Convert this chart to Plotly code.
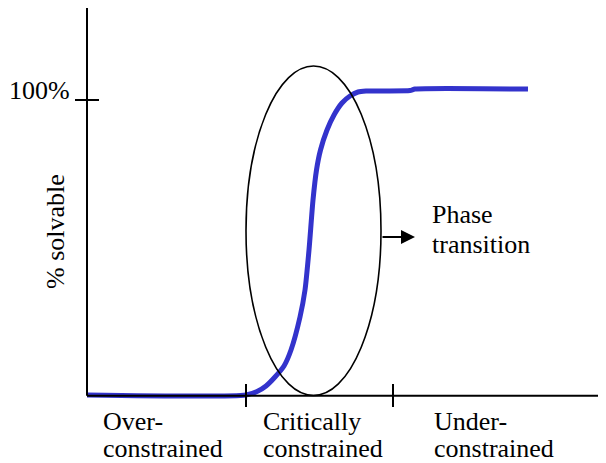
import plotly.graph_objects as go

# ---- data (x: constrainedness units, y: % solvable) ----
curve_x = [0, 159, 171, 179, 188, 197, 204, 213, 218, 222, 226, 229.5, 233.5, 240, 247, 255, 263, 271, 279, 323, 328, 441]
curve_y = [0, 0, 1.36, 3.05, 6.1, 9.83, 15.25, 26.44, 35.59, 49.15, 66.1, 76.27, 83.05, 89.83, 94.92, 98.98, 101.36, 102.71, 103.05, 103.2, 103.7, 103.7]

region_bounds = [159, 306]          # tick positions on the x axis
region_labels = [["Over-", "constrained"], ["Critically", "constrained"], ["Under-", "constrained"]]
y_tick_value = 100
y_tick_label = "100%"
y_axis_title = "% solvable"
transition_window = [159, 294]      # ellipse x-extent
transition_top = 111.5
phase_label = ["Phase", "transition"]

# page geometry (the html body has an 8px margin)
W, H = 606, 463
OFF = 8
X0, Y0 = 87, 395       # page pixel location of origin
PX_PER_Y = 2.95
x_range = [OFF - X0, W - X0]
y_range = [(Y0 - H) / PX_PER_Y, (Y0 - OFF) / PX_PER_Y]

def dx(px):
    return px - X0

def dy(py):
    return (Y0 - py) / PX_PER_Y

FONT = dict(family="Liberation Serif, Times New Roman, serif", size=26, color="black")

fig = go.Figure()
fig.add_trace(go.Scatter(
    x=curve_x, y=curve_y, mode="lines",
    line=dict(color="#3333cc", width=5, shape="spline", smoothing=0.6),
    hoverinfo="skip", showlegend=False,
))

shapes = []
# axes
shapes.append(dict(type="line", x0=0, x1=dx(599), y0=dy(395.7), y1=dy(395.7), line=dict(color="black", width=2)))
shapes.append(dict(type="line", x0=0, x1=0, y0=dy(395.7), y1=y_range[1], line=dict(color="black", width=2)))
# y tick
shapes.append(dict(type="line", x0=dx(75), x1=dx(99), y0=y_tick_value, y1=y_tick_value, line=dict(color="black", width=2)))
# x ticks
for b in region_bounds:
    shapes.append(dict(type="line", x0=b, x1=b, y0=dy(384), y1=dy(407), line=dict(color="black", width=2)))
# ellipse
shapes.append(dict(type="circle", x0=transition_window[0], x1=transition_window[1], y0=dy(395.5), y1=transition_top,
                   line=dict(color="black", width=1.6)))

ann = []
ann.append(dict(x=dx(72), y=dy(90), text=y_tick_label, showarrow=False, xanchor="right", yanchor="middle", font=FONT))
ann.append(dict(x=dx(55), y=dy(232), text=y_axis_title, showarrow=False, textangle=-90, xanchor="center", yanchor="middle", font=FONT))

label_left = [101, 261, 432]
for lx, lines in zip(label_left, region_labels):
    ann.append(dict(x=dx(lx), y=dy(421), text=lines[0], showarrow=False, xanchor="left", yanchor="middle", font=FONT))
    ann.append(dict(x=dx(lx), y=dy(448), text=lines[1], showarrow=False, xanchor="left", yanchor="middle", font=FONT))

ann.append(dict(x=dx(430), y=dy(214), text=phase_label[0], showarrow=False, xanchor="left", yanchor="middle", font=FONT))
ann.append(dict(x=dx(430), y=dy(244), text=phase_label[1], showarrow=False, xanchor="left", yanchor="middle", font=FONT))
# arrow
ann.append(dict(x=dx(415), y=dy(237), ax=dx(381), ay=dy(237), axref="x", ayref="y", text="",
                showarrow=True, arrowhead=2, arrowwidth=2, arrowsize=1.4, arrowcolor="black"))

fig.update_layout(
    width=W - OFF, height=H - OFF,
    margin=dict(l=0, r=0, t=0, b=0),
    paper_bgcolor="white", plot_bgcolor="white",
    xaxis=dict(range=x_range, visible=False, fixedrange=True),
    yaxis=dict(range=y_range, visible=False, fixedrange=True),
    shapes=shapes, annotations=ann,
)

fig.write_html("out.html")
